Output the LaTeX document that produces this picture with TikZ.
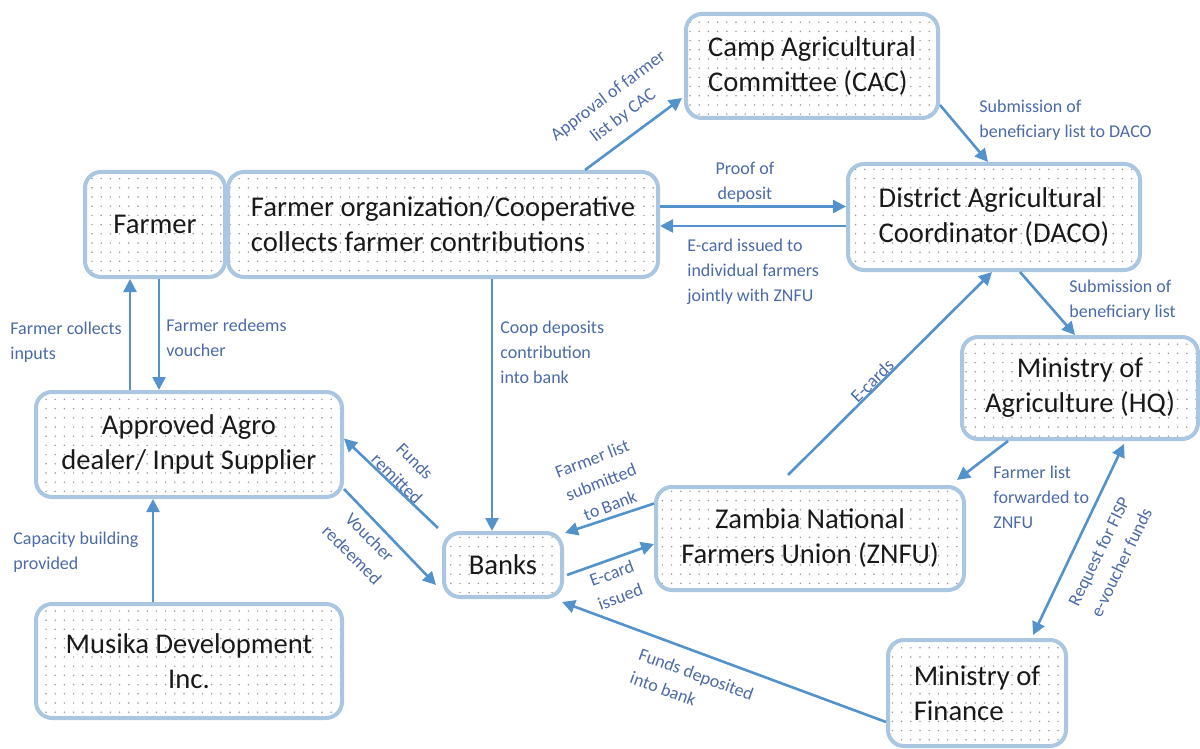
\documentclass[tikz,border=0pt]{standalone}
\usepackage{fontspec}
\setmainfont{Carlito}
\usetikzlibrary{arrows.meta,patterns.meta}

\definecolor{boxline}{RGB}{170,198,224}
\definecolor{flow}{RGB}{84,146,204}
\definecolor{lbl}{RGB}{74,106,168}
\definecolor{dotc}{RGB}{150,150,150}

\tikzset{
  box/.style={draw=boxline, line width=2pt, rounded corners=8pt,
    pattern={Dots[distance=4.6pt, radius=0.42pt]}, pattern color=dotc,
    font=\fontsize{14.3}{17.5}\selectfont, text=black!90, inner sep=2pt},
  arr/.style={draw=flow, line width=1.3pt, -{Triangle[length=6.5pt,width=6.5pt]}},
  biarr/.style={draw=flow, line width=1.3pt, {Triangle[length=6.5pt,width=6.5pt]}-{Triangle[length=6.5pt,width=6.5pt]}},
  lab/.style={text=lbl, font=\fontsize{9}{12.5}\selectfont, inner sep=0pt},
}

\begin{document}
\begin{tikzpicture}[x=0.5pt, y=-0.5pt]
\useasboundingbox (0,0) rectangle (1200,749);

% organisations
\node[box, minimum width=70pt, minimum height=52.5pt] (farmer) at (155,224.5) {Farmer};
\node[box, minimum width=215pt, minimum height=52.5pt, align=left] (org) at (443,224.5)
  {Farmer organization/Cooperative\\collects farmer contributions};
\node[box, minimum width=126pt, minimum height=52pt, align=left] (cac) at (812,66)
  {Camp Agricultural\\Committee (CAC)};
\node[box, minimum width=146pt, minimum height=53pt, align=left] (daco) at (994,217)
  {District Agricultural\\Coordinator (DACO)};
\node[box, minimum width=118pt, minimum height=51pt, align=center] (moa) at (1080,388)
  {Ministry of\\Agriculture (HQ)};
\node[box, minimum width=154pt, minimum height=51.5pt, align=center] (znfu) at (810,538.5)
  {Zambia National\\Farmers Union (ZNFU)};
\node[box, minimum width=59pt, minimum height=32pt] (banks) at (503,565) {Banks};
\node[box, minimum width=153pt, minimum height=52.5pt, align=center] (agro) at (189,444.5)
  {Approved Agro\\dealer/ Input Supplier};
\node[box, minimum width=153pt, minimum height=57pt, align=center] (musika) at (189,661)
  {Musika Development\\Inc.};
\node[box, minimum width=89pt, minimum height=53pt, align=left] (mof) at (977,693)
  {Ministry of\\Finance};

% attachment points
\coordinate (pd) at ([yshift=9pt]org.east);
\coordinate (ec) at ([yshift=-4.5pt]daco.west);
\coordinate (cd) at ([xshift=24.5pt]org.south);
\coordinate (fc) at ([xshift=-12.5pt]farmer.south);
\coordinate (fr) at ([xshift=2pt]farmer.south);
\coordinate (cb) at ([xshift=-18pt]musika.north);

% flows
\draw[arr] ([xshift=71pt]org.north) -- ([xshift=-1pt,yshift=11pt]cac.south west);
\draw[arr] ([yshift=7.5pt]cac.south east) -- ([xshift=-3pt]daco.north);
\draw[arr] (pd) -- (pd -| daco.west);
\draw[arr] (ec) -- (ec -| org.east);
\draw[arr] ([xshift=13pt]daco.south) -- ([xshift=-2.5pt]moa.north);
\draw[arr] ([xshift=-11pt,yshift=5pt]znfu.north) -- ([xshift=-1pt]daco.south);
\draw[arr] ([xshift=24pt]moa.south west) -- ([xshift=-4.5pt,yshift=2.5pt]znfu.north east);
\draw[biarr] ([xshift=22pt,yshift=-1.5pt]moa.south) -- ([xshift=28pt,yshift=1.5pt]mof.north);
\draw[arr] ([yshift=-14.5pt]mof.west) -- ([xshift=-1pt,yshift=-1.5pt]banks.south east);
\draw[arr] ([yshift=17.5pt]znfu.west) -- ([xshift=0.5pt,yshift=-1pt]banks.north east);
\draw[arr] ([xshift=1.5pt,yshift=-5pt]banks.east) -- ([yshift=-2.75pt]znfu.west);
\draw[arr] (cd) -- (cd |- banks.north);
\draw[arr] ([xshift=-2pt,yshift=1.5pt]banks.north west) -- ([yshift=3pt]agro.east);
\draw[arr] ([yshift=5pt]agro.south east) -- ([xshift=-3pt,yshift=7pt]banks.south west);
\draw[arr] (fc |- agro.north) -- (fc);
\draw[arr] (fr) -- (fr |- agro.north);
\draw[arr] (cb) -- (cb |- agro.south);

% flow labels
\node[lab, align=center, rotate=37] (l1) at (616,106) {Approval of farmer\\list by CAC};
\node[lab, align=left, anchor=west] (l2) at (979,120) {Submission of\\beneficiary list to DACO};
\node[lab, align=center] (l3) at (745,182) {Proof of\\deposit};
\node[lab, align=left, anchor=west] (l4) at (687,272) {E-card issued to\\individual farmers\\jointly with ZNFU};
\node[lab, align=left, anchor=west] (l5) at (1069,300) {Submission of\\beneficiary list};
\node[lab, rotate=45] (l6) at (872,381) {E-cards};
\node[lab, align=left, anchor=west] (l7) at (993,497) {Farmer list\\forwarded to\\ZNFU};
\node[lab, align=center, rotate=64] (l8) at (1110,557) {Request for FISP\\e-voucher funds};
\node[lab, align=left, rotate=-20] (l9) at (692,686) {Funds deposited\\into bank};
\node[lab, align=center, rotate=21] (l10) at (601,482) {Farmer list\\submitted\\to Bank};
\node[lab, align=center, rotate=20] (l11) at (616,585) {E-card\\issued};
\node[lab, align=center, rotate=-45] (l12) at (406,470) {Funds\\remitted};
\node[lab, align=center, rotate=-45] (l13) at (361,546) {Voucher\\redeemed};
\node[lab, align=left, anchor=west] (l14) at (500,352) {Coop deposits\\contribution\\into bank};
\node[lab, align=left, anchor=west] (l15) at (10,342) {Farmer collects\\inputs};
\node[lab, align=left, anchor=west] (l16) at (166,338) {Farmer redeems\\voucher};
\node[lab, align=left, anchor=west] (l17) at (13,552) {Capacity building\\provided};
\end{tikzpicture}
\end{document}
